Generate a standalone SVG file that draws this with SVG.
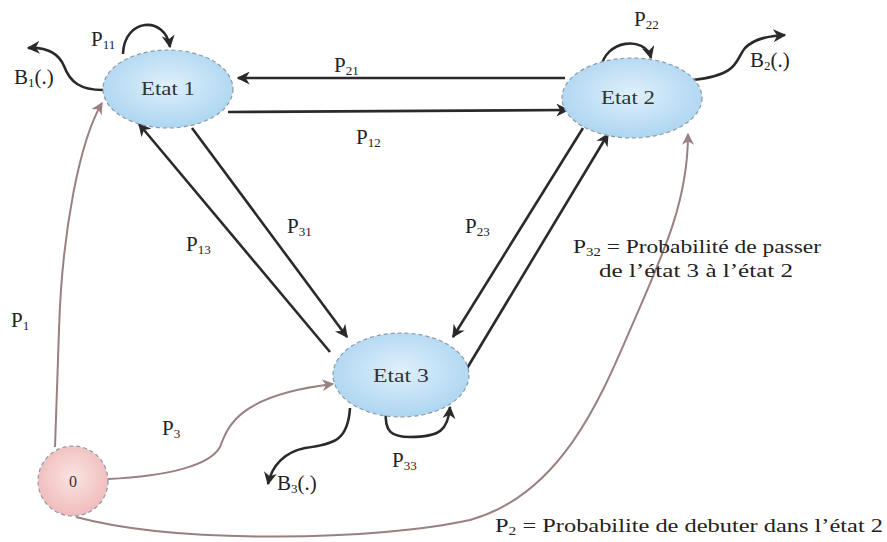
<svg xmlns="http://www.w3.org/2000/svg" width="887" height="542" viewBox="0 0 887 542" font-family="'Liberation Serif', 'Times New Roman', 'DejaVu Serif', serif">
<style>
.t{font-family:'Liberation Serif','Times New Roman','DejaVu Serif',serif;font-size:19px;fill:#222}
.s{font-family:'Liberation Serif','Times New Roman','DejaVu Serif',serif;font-size:21px;fill:#222}
.n{font-family:'Liberation Serif','Times New Roman','DejaVu Serif',serif;font-size:19px;fill:#333;text-anchor:middle}
.e{stroke:#2a2a2a;stroke-width:2.6;fill:none}
.p{stroke:#9a8080;stroke-width:2;fill:none}
.st{stroke:#8a9aa8;stroke-width:1.2;stroke-dasharray:4 3}
</style>
<defs>
<radialGradient id="gb" cx="0.5" cy="0.45" r="0.6">
<stop offset="0" stop-color="#dff0fb"/><stop offset="1" stop-color="#a9d3f0"/>
</radialGradient>
<radialGradient id="gp" cx="0.5" cy="0.45" r="0.6">
<stop offset="0" stop-color="#fbe3e3"/><stop offset="1" stop-color="#efb8b8"/>
</radialGradient>
<marker id="ab" viewBox="0 0 10 10" refX="9" refY="5" markerWidth="5" markerHeight="5" orient="auto-start-reverse"><path d="M0,0 L10,5 L0,10 L3,5 z" fill="#2a2a2a"/></marker>
<marker id="ap" viewBox="0 0 10 10" refX="9" refY="5" markerWidth="6" markerHeight="6" orient="auto-start-reverse"><path d="M0,0 L10,5 L0,10 L3,5 z" fill="#9a8080"/></marker>
</defs>
<g id="connectors">
<path class="e" d="M565,78 L238,78" marker-end="url(#ab)"/>
<path class="e" d="M228,112 L568,110" marker-end="url(#ab)"/>
<path class="e" d="M123,54 C124,18 165,15 170,47" marker-end="url(#ab)"/>
<path class="e" d="M103,90 C80,90 70,82 64,66 C58,52 45,47 28,48" marker-end="url(#ab)"/>
<path class="e" d="M601,68 C605,40 645,35 651,58" marker-end="url(#ab)"/>
<path class="e" d="M693,80 C740,75 735,60 745,48 C755,38 770,36 785,35" marker-end="url(#ab)"/>
<path class="e" d="M330,352 L139,124" marker-end="url(#ab)"/>
<path class="e" d="M192,128 L347,337" marker-end="url(#ab)"/>
<path class="e" d="M583,128 L453,337" marker-end="url(#ab)"/>
<path class="e" d="M466,370 L608,134" marker-end="url(#ab)"/>
<path class="e" d="M386,411 C384,432 392,437 410,437 C440,437 448,430 450,407" marker-end="url(#ab)"/>
<path class="e" d="M350,408 C348,440 335,444 305,448 C285,452 272,465 268,484" marker-end="url(#ab)"/>
<path class="p" d="M55,447 L59,330 C62,230 80,140 102,103" marker-end="url(#ap)"/>
<path class="p" d="M108,479 C170,476 210,465 220,447 C228,425 240,395 333,384" marker-end="url(#ap)"/>
<path class="p" d="M76,517 C180,545 380,540 470,520 C560,495 600,400 630,330 C665,250 688,200 688,134" marker-end="url(#ap)"/>
</g>
<g id="etat1"><ellipse cx="168" cy="89" rx="65" ry="39" fill="url(#gb)" class="st"/><text class="n" x="168" y="95" textLength="54" lengthAdjust="spacingAndGlyphs">Etat 1</text></g>
<g id="etat2"><ellipse cx="632" cy="98" rx="70" ry="40" fill="url(#gb)" class="st"/><text class="n" x="628" y="104" textLength="54" lengthAdjust="spacingAndGlyphs">Etat 2</text></g>
<g id="etat3"><ellipse cx="401" cy="375" rx="68" ry="42" fill="url(#gb)" class="st"/><text class="n" x="401" y="382" textLength="56" lengthAdjust="spacingAndGlyphs">Etat 3</text></g>
<g id="node0"><circle cx="73" cy="481" r="35" fill="url(#gp)" class="st"/><text class="n" x="73" y="487" style="font-size:16px">0</text></g>
<g id="labels">
<text class="s" x="91" y="46">P<tspan font-size="13" dy="3">11</tspan></text>
<text class="s" x="14" y="84">B<tspan font-size="13" dy="3">1</tspan><tspan dy="-3">(.)</tspan></text>
<text class="s" x="334" y="72">P<tspan font-size="13" dy="3">21</tspan></text>
<text class="s" x="356" y="144">P<tspan font-size="13" dy="3">12</tspan></text>
<text class="s" x="634" y="26">P<tspan font-size="13" dy="3">22</tspan></text>
<text class="s" x="750" y="67">B<tspan font-size="13" dy="3">2</tspan><tspan dy="-3">(.)</tspan></text>
<text class="s" x="186" y="251">P<tspan font-size="13" dy="3">13</tspan></text>
<text class="s" x="287" y="233">P<tspan font-size="13" dy="3">31</tspan></text>
<text class="s" x="465" y="233">P<tspan font-size="13" dy="3">23</tspan></text>
<text class="s" x="11" y="327">P<tspan font-size="13" dy="3">1</tspan></text>
<text class="s" x="162" y="435">P<tspan font-size="13" dy="3">3</tspan></text>
<text class="s" x="392" y="467">P<tspan font-size="13" dy="3">33</tspan></text>
<text class="s" x="277" y="490">B<tspan font-size="13" dy="3">3</tspan><tspan dy="-3">(.)</tspan></text>
<text class="t" x="573" y="253" textLength="248" lengthAdjust="spacingAndGlyphs">P<tspan font-size="12" dy="3">32</tspan><tspan dy="-3"> = Probabilité de passer</tspan></text>
<text class="t" x="599" y="277" textLength="194" lengthAdjust="spacingAndGlyphs">de l’état 3 à l’état 2</text>
<text class="t" x="495" y="532" textLength="388" lengthAdjust="spacingAndGlyphs">P<tspan font-size="12" dy="3">2</tspan><tspan dy="-3"> =  Probabilite de debuter dans l’état 2</tspan></text>
</g>
</svg>
